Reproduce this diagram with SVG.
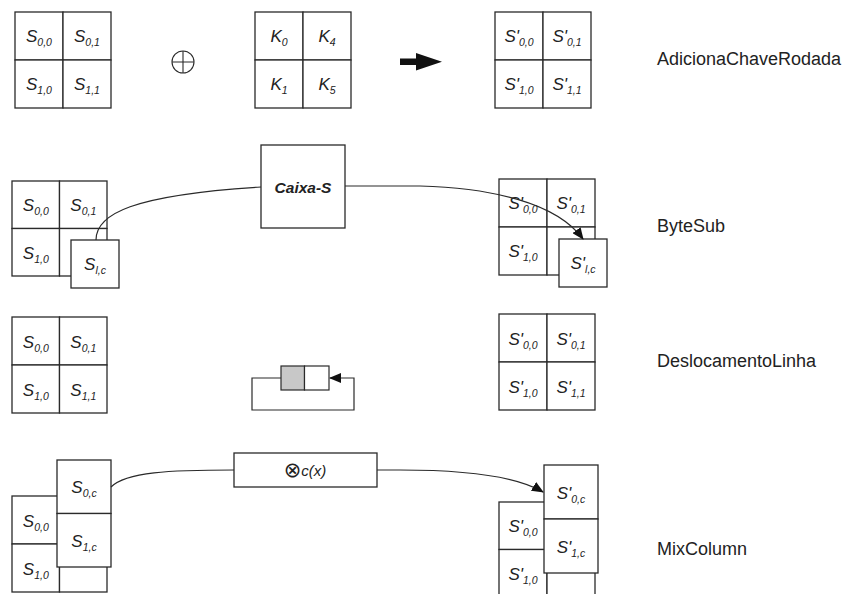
<svg xmlns="http://www.w3.org/2000/svg" width="852" height="594" viewBox="0 0 852 594">
  <style>
    .c { fill: #fff; stroke: #2a2a2a; stroke-width: 1.3; }
    .v { font-family: "Liberation Sans", Arial, sans-serif; font-style: italic; font-size: 17px; fill: #222; text-anchor: middle; }
    .s { font-size: 10.5px; }
    .lbl { font-family: "Liberation Sans", Arial, sans-serif; font-size: 18px; fill: #222; }
    .ln { fill: none; stroke: #2a2a2a; stroke-width: 1.2; }
  </style>
  <defs>
    <marker id="ah" markerWidth="12" markerHeight="10" refX="11" refY="5" orient="auto" markerUnits="userSpaceOnUse">
      <path d="M0,0 L12,5 L0,10 Z" fill="#111"/>
    </marker>
  </defs>
  <rect width="852" height="594" fill="#fff"/>

  <!-- Row 1: AdicionaChaveRodada -->
  <g id="state-a">
    <rect class="c" x="15" y="12" width="48" height="48"/>
    <rect class="c" x="63" y="12" width="48" height="48"/>
    <rect class="c" x="15" y="60" width="48" height="48"/>
    <rect class="c" x="63" y="60" width="48" height="48"/>
    <text class="v" x="39" y="42">S<tspan class="s" dy="4">0,0</tspan></text>
    <text class="v" x="87" y="42">S<tspan class="s" dy="4">0,1</tspan></text>
    <text class="v" x="39" y="90">S<tspan class="s" dy="4">1,0</tspan></text>
    <text class="v" x="87" y="90">S<tspan class="s" dy="4">1,1</tspan></text>
  </g>
  <g id="xor">
    <circle cx="183" cy="62" r="11" fill="none" stroke="#2a2a2a" stroke-width="1.1"/>
    <path d="M172,62 H194 M183,51 V73" stroke="#2a2a2a" stroke-width="1.1"/>
  </g>
  <g id="round-key">
    <rect class="c" x="255" y="12" width="48" height="48"/>
    <rect class="c" x="303" y="12" width="48" height="48"/>
    <rect class="c" x="255" y="60" width="48" height="48"/>
    <rect class="c" x="303" y="60" width="48" height="48"/>
    <text class="v" x="279" y="42">K<tspan class="s" dy="4">0</tspan></text>
    <text class="v" x="327" y="42">K<tspan class="s" dy="4">4</tspan></text>
    <text class="v" x="279" y="90">K<tspan class="s" dy="4">1</tspan></text>
    <text class="v" x="327" y="90">K<tspan class="s" dy="4">5</tspan></text>
  </g>
  <g id="result-arrow">
    <polygon points="400,58.5 416,58.5 416,53 442,61.7 416,70.5 416,65 400,65" fill="#111"/>
  </g>
  <g id="state-a-out">
    <rect class="c" x="495" y="12" width="48" height="48"/>
    <rect class="c" x="543" y="12" width="48" height="48"/>
    <rect class="c" x="495" y="60" width="48" height="48"/>
    <rect class="c" x="543" y="60" width="48" height="48"/>
    <text class="v" x="519" y="42">S'<tspan class="s" dy="4">0,0</tspan></text>
    <text class="v" x="567" y="42">S'<tspan class="s" dy="4">0,1</tspan></text>
    <text class="v" x="519" y="90">S'<tspan class="s" dy="4">1,0</tspan></text>
    <text class="v" x="567" y="90">S'<tspan class="s" dy="4">1,1</tspan></text>
  </g>
  <text class="lbl" x="657" y="65">AdicionaChaveRodada</text>

  <!-- Row 2: ByteSub -->
  <g id="state-b">
    <rect class="c" x="12" y="181" width="47.5" height="47.5"/>
    <rect class="c" x="59.5" y="181" width="47.5" height="47.5"/>
    <rect class="c" x="12" y="228.5" width="47.5" height="47.5"/>
    <rect class="c" x="59.5" y="228.5" width="47.5" height="47.5"/>
    <text class="v" x="35.8" y="211">S<tspan class="s" dy="4">0,0</tspan></text>
    <text class="v" x="83.3" y="211">S<tspan class="s" dy="4">0,1</tspan></text>
    <text class="v" x="35.8" y="258.5">S<tspan class="s" dy="4">1,0</tspan></text>
  </g>
  <g id="byte-in">
    <rect class="c" x="71" y="240" width="48" height="48"/>
    <text class="v" x="95" y="270">S<tspan class="s" dy="4">l,c</tspan></text>
  </g>
  <g id="sbox">
    <rect class="c" x="261" y="145" width="84" height="83"/>
    <text x="303" y="193" text-anchor="middle" font-family="'Liberation Sans', Arial, sans-serif" font-size="15.5" font-weight="bold" font-style="italic" fill="#222">Caixa-S</text>
  </g>
  <g id="state-b-out">
    <rect class="c" x="499" y="179" width="48" height="48"/>
    <rect class="c" x="547" y="179" width="48" height="48"/>
    <rect class="c" x="499" y="227" width="48" height="48"/>
    <rect class="c" x="547" y="227" width="48" height="48"/>
    <text class="v" x="523" y="209">S'<tspan class="s" dy="4">0,0</tspan></text>
    <text class="v" x="571" y="209">S'<tspan class="s" dy="4">0,1</tspan></text>
    <text class="v" x="523" y="257">S'<tspan class="s" dy="4">1,0</tspan></text>
  </g>
  <g id="byte-out">
    <rect class="c" x="559" y="239" width="48" height="48"/>
    <text class="v" x="583" y="269">S'<tspan class="s" dy="4">l,c</tspan></text>
  </g>
  <text class="lbl" x="657" y="232">ByteSub</text>

  <!-- Row 3: DeslocamentoLinha -->
  <g id="state-c">
    <rect class="c" x="12" y="317" width="47.5" height="48"/>
    <rect class="c" x="59.5" y="317" width="47.5" height="48"/>
    <rect class="c" x="12" y="365" width="47.5" height="48"/>
    <rect class="c" x="59.5" y="365" width="47.5" height="48"/>
    <text class="v" x="35.8" y="347.5">S<tspan class="s" dy="4">0,0</tspan></text>
    <text class="v" x="83.3" y="347.5">S<tspan class="s" dy="4">0,1</tspan></text>
    <text class="v" x="35.8" y="395.5">S<tspan class="s" dy="4">1,0</tspan></text>
    <text class="v" x="83.3" y="395.5">S<tspan class="s" dy="4">1,1</tspan></text>
  </g>
  <g id="shift">
    <rect x="281" y="366" width="23.5" height="24" fill="#c8c8c8" stroke="#2a2a2a" stroke-width="1.2"/>
    <rect x="304.5" y="366" width="24.5" height="24" fill="#fff" stroke="#2a2a2a" stroke-width="1.2"/>
    <path class="ln" d="M281,378 H252 V410 H354 V378 H330" marker-end="url(#ah)"/>
  </g>
  <g id="state-c-out">
    <rect class="c" x="499" y="314" width="48" height="48"/>
    <rect class="c" x="547" y="314" width="48" height="48"/>
    <rect class="c" x="499" y="362" width="48" height="48"/>
    <rect class="c" x="547" y="362" width="48" height="48"/>
    <text class="v" x="523" y="344.5">S'<tspan class="s" dy="4">0,0</tspan></text>
    <text class="v" x="571" y="344.5">S'<tspan class="s" dy="4">0,1</tspan></text>
    <text class="v" x="523" y="392.5">S'<tspan class="s" dy="4">1,0</tspan></text>
    <text class="v" x="571" y="392.5">S'<tspan class="s" dy="4">1,1</tspan></text>
  </g>
  <text class="lbl" x="657" y="367">DeslocamentoLinha</text>

  <!-- Row 4: MixColumn -->
  <g id="state-d">
    <rect class="c" x="12" y="496" width="47.5" height="48"/>
    <rect class="c" x="59.5" y="496" width="47.5" height="48"/>
    <rect class="c" x="12" y="544" width="47.5" height="48"/>
    <rect class="c" x="59.5" y="544" width="47.5" height="48"/>
    <text class="v" x="35.8" y="526.5">S<tspan class="s" dy="4">0,0</tspan></text>
    <text class="v" x="35.8" y="574.5">S<tspan class="s" dy="4">1,0</tspan></text>
  </g>
  <g id="column-in">
    <rect class="c" x="57" y="460" width="54" height="53.5"/>
    <rect class="c" x="57" y="513.5" width="54" height="53.5"/>
    <text class="v" x="84" y="493">S<tspan class="s" dy="4">0,c</tspan></text>
    <text class="v" x="84" y="546.5">S<tspan class="s" dy="4">1,c</tspan></text>
  </g>
  <g id="mix">
    <rect class="c" x="234" y="453" width="143" height="34"/>
    <text x="305" y="476" text-anchor="middle" font-family="'Liberation Sans', 'DejaVu Sans', sans-serif" font-size="15" font-style="italic" fill="#222"><tspan font-family="'DejaVu Sans', sans-serif" font-style="normal" font-size="21" dy="1">⊗</tspan><tspan dy="-1">c(x)</tspan></text>
  </g>
  <g id="state-d-out">
    <rect class="c" x="499" y="502" width="48" height="47.5"/>
    <rect class="c" x="547" y="502" width="48" height="47.5"/>
    <rect class="c" x="499" y="549.5" width="48" height="47.5"/>
    <rect class="c" x="547" y="549.5" width="48" height="47.5"/>
    <text class="v" x="523" y="532">S'<tspan class="s" dy="4">0,0</tspan></text>
    <text class="v" x="523" y="579.5">S'<tspan class="s" dy="4">1,0</tspan></text>
  </g>
  <g id="column-out">
    <rect class="c" x="544" y="465" width="54" height="54"/>
    <rect class="c" x="544" y="519" width="54" height="54"/>
    <text class="v" x="571" y="498.5">S'<tspan class="s" dy="4">0,c</tspan></text>
    <text class="v" x="571" y="552.5">S'<tspan class="s" dy="4">1,c</tspan></text>
  </g>
  <text class="lbl" x="657" y="555">MixColumn</text>

  <!-- connectors -->
  <g id="connectors">
    <path class="ln" d="M96,240 C96,214 132,195 261,187"/>
    <path class="ln" d="M345,186 H420 C490,188 556,202 583,239" marker-end="url(#ah)"/>
    <path class="ln" d="M111,487 C126,472 170,470 234,470"/>
    <path class="ln" d="M377,470 H400 C470,470 518,477 543,492" marker-end="url(#ah)"/>
  </g>
</svg>
